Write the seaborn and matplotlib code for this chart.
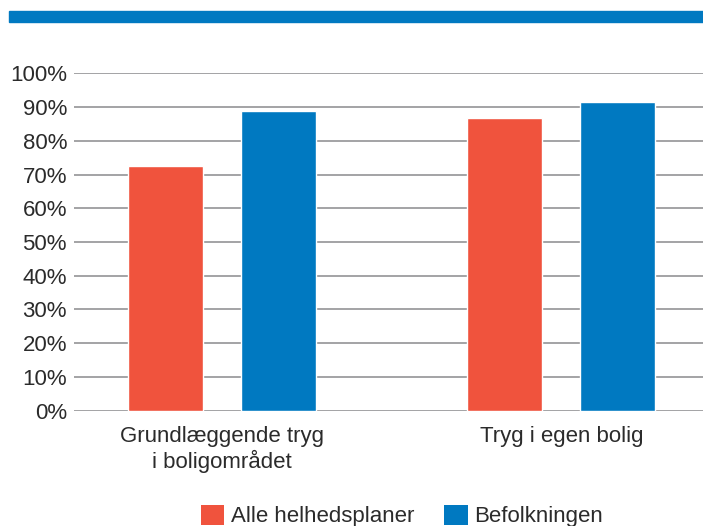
"""Tryghed: helhedsplaner vs befolkningen — grouped bar chart."""

import matplotlib
matplotlib.use("Agg")
import matplotlib.pyplot as plt
from matplotlib.patches import Patch, Rectangle
import pandas as pd
import seaborn as sns

categories = ["Grundlæggende tryg\ni boligområdet", "Tryg i egen bolig"]
series_names = ["Alle helhedsplaner", "Befolkningen"]
helhedsplaner = [72.5, 86.8]
befolkningen = [88.7, 91.6]
yticks = [0, 10, 20, 30, 40, 50, 60, 70, 80, 90, 100]
ytick_labels = [f"{v}%" for v in yticks]

RED = "#F0533D"
BLUE = "#0079C1"
GRID = "#9C9C9E"
TEXT = "#2B2B2B"

df = pd.DataFrame({
    "kategori": categories * 2,
    "serie": [series_names[0]] * 2 + [series_names[1]] * 2,
    "andel": helhedsplaner + befolkningen,
})

sns.set_style("white")
plt.rcParams["font.family"] = ["Liberation Sans", "DejaVu Sans"]

fig = plt.figure(figsize=(7.03, 5.26), dpi=100)
ax = fig.add_axes([74 / 703, 1 - 410.7 / 526, 1 - 74 / 703, (410.7 - 73.3) / 526])

sns.barplot(
    data=df, x="kategori", y="andel", hue="serie",
    palette=[RED, BLUE], saturation=1, width=0.666, gap=0.336,
    legend=False, ax=ax, zorder=3,
)

ax.set_ylim(0, 100)
ax.set_xlim(-0.436, 1.417)
ax.set_yticks(yticks)
ax.set_yticklabels(ytick_labels)
ax.yaxis.grid(True, color=GRID, linewidth=1.3, zorder=0)
ax.set_axisbelow(True)
for s in ax.spines.values():
    s.set_visible(False)
ax.set_xlabel("")
ax.set_ylabel("")
ax.tick_params(axis="y", length=0, pad=5, labelsize=16, labelcolor=TEXT)
ax.tick_params(axis="x", length=0, pad=11, labelsize=16, labelcolor=TEXT)
for lbl in ax.get_xticklabels():
    lbl.set_linespacing(1.15)

# blue band at the top
fig.patches.append(Rectangle((9 / 703, 1 - 21.7 / 526), 1, 11 / 526,
                             transform=fig.transFigure, color=BLUE, zorder=5))

handles = [Patch(facecolor=RED, edgecolor="none"), Patch(facecolor=BLUE, edgecolor="none")]
fig.legend(handles, series_names, loc="center", bbox_to_anchor=(0.572, 0.019),
           ncol=2, frameon=False, fontsize=16, handlelength=1.05, handleheight=1.05,
           handletextpad=0.3, columnspacing=1.35, labelcolor=TEXT)

fig.savefig("out.png", dpi=100)
